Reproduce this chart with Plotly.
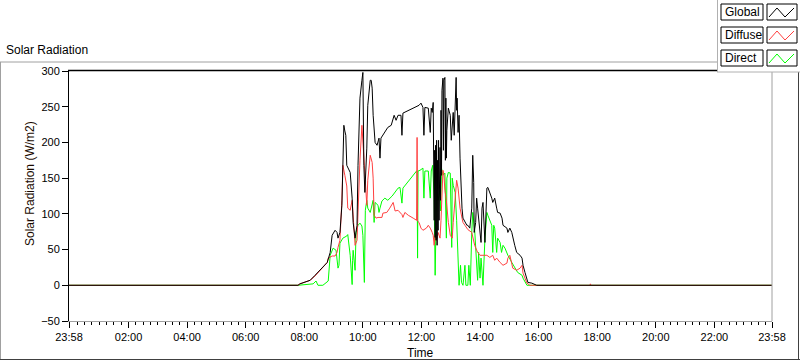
import pandas as pd
import plotly.graph_objects as go

# ---------------- data (minutes after midnight, W/m2) ----------------
global_min = [-2, 466, 467, 471, 481, 492, 502, 512, 518, 527, 533, 537, 543, 547, 549, 553, 557, 559, 561,
              563, 565, 567, 574, 578, 580, 584, 588, 590, 594, 598, 600, 602, 604, 608, 610, 615, 617, 619,
              621, 625, 629, 633, 635, 637, 645, 651, 658, 664, 668, 672, 678, 680, 682, 693, 707, 715, 719,
              723, 725, 727, 734, 738, 740, 742, 744, 746, 747, 748, 749, 750, 751, 752, 753, 754, 755, 756,
              758, 759, 760, 761, 762, 764, 765, 766, 768, 769, 770, 771, 772, 775, 779, 781, 783, 785, 787,
              789, 791, 792, 793, 795, 797, 799, 801, 803, 805, 809, 813, 815, 819, 823, 825, 827, 828, 831,
              833, 835, 838, 842, 844, 846, 850, 854, 856, 860, 864, 866, 870, 874, 876, 881, 885, 887, 895,
              897, 901, 905, 907, 911, 915, 922, 926, 928, 932, 936, 938, 946, 956, 1438]
global_wm2 = [0, 0, 0, 2, 4, 7, 14, 21, 25, 32, 46, 70, 77, 74, 66, 74, 112, 161, 224,
              216, 210, 168, 158, 122, 88, 66, 84, 168, 262, 287, 298, 168, 130, 192, 252, 287, 287, 276,
              238, 200, 196, 206, 178, 206, 214, 221, 224, 238, 231, 238, 238, 210, 241, 245, 249, 252, 255,
              249, 210, 249, 248, 214, 248, 242, 256, 91, 189, 67, 196, 63, 203, 56, 175, 77, 203, 91,
              193, 119, 245, 154, 273, 290, 189, 287, 291, 175, 262, 178, 217, 248, 238, 203, 231, 242, 210,
              262, 291, 245, 262, 214, 238, 178, 122, 108, 94, 88, 84, 84, 80, 108, 182, 144, 74, 88,
              122, 108, 84, 60, 108, 116, 60, 136, 137, 130, 122, 116, 122, 108, 102, 101, 94, 84, 80,
              74, 80, 74, 66, 56, 46, 42, 38, 28, 18, 10, 4, 3, 0, 0]

diffuse_min = [-2, 466, 467, 471, 481, 492, 502, 512, 518, 527, 529, 537, 543, 547, 549, 553, 557, 559, 563,
               567, 569, 574, 578, 580, 584, 588, 590, 594, 598, 600, 604, 608, 610, 615, 619, 621, 623, 627,
               631, 639, 641, 649, 655, 662, 666, 672, 680, 682, 686, 693, 703, 710, 711, 712, 715, 719, 723,
               730, 734, 738, 742, 744, 746, 748, 750, 752, 754, 758, 760, 762, 764, 766, 768, 771, 775, 779,
               783, 785, 789, 792, 795, 799, 803, 805, 809, 815, 823, 825, 829, 835, 840, 846, 854, 860, 866,
               870, 874, 881, 887, 895, 897, 901, 905, 907, 915, 922, 926, 928, 932, 936, 942, 1065, 1066,
               1067, 1438]
diffuse_wm2 = [0, 0, 0, 2, 4, 7, 13, 21, 25, 32, 38, 41, 41, 46, 53, 63, 119, 168, 154,
               139, 108, 105, 119, 91, 56, 63, 112, 175, 224, 200, 164, 112, 147, 182, 172, 150, 98, 94,
               95, 95, 101, 102, 108, 116, 104, 105, 99, 95, 102, 98, 94, 91, 207, 90, 88, 80, 77,
               80, 84, 80, 74, 70, 56, 70, 63, 66, 74, 66, 91, 119, 161, 154, 133, 119, 88, 70,
               66, 88, 126, 147, 136, 108, 94, 88, 84, 78, 74, 66, 56, 46, 42, 42, 42, 39, 42,
               35, 38, 32, 28, 31, 38, 42, 32, 24, 21, 24, 28, 17, 10, 3, 0, 0, 2,
               0, 0]

direct_min = [-2, 467, 498, 504, 508, 518, 529, 533, 539, 545, 549, 551, 553, 559, 567, 569, 574, 576, 578,
              579, 580, 584, 586, 590, 594, 598, 600, 603, 605, 608, 610, 615, 619, 621, 623, 625, 631, 633,
              635, 639, 645, 651, 660, 666, 672, 676, 680, 682, 690, 697, 703, 710, 711, 712, 713, 717, 723,
              725, 727, 734, 738, 740, 743, 746, 748, 750, 751, 754, 758, 759, 761, 764, 768, 771, 772, 775,
              779, 782, 783, 785, 789, 792, 795, 797, 800, 802, 805, 809, 811, 815, 817, 820, 823, 825, 829,
              832, 835, 837, 840, 842, 846, 850, 854, 856, 860, 864, 866, 868, 870, 874, 876, 881, 884, 887,
              891, 897, 905, 911, 917, 926, 928, 936, 1438]
direct_wm2 = [0, 0, 2, 6, 0, 0, 6, 42, 52, 49, 24, 28, 59, 66, 69, 71, 42, 10, 1,
              35, 49, 21, 74, 84, 87, 83, 70, 4, 105, 119, 108, 102, 116, 119, 88, 116, 112, 102,
              108, 118, 122, 119, 125, 130, 136, 137, 115, 136, 143, 150, 154, 160, 160, 38, 160, 161, 164,
              122, 160, 160, 122, 160, 168, 122, 14, 74, 133, 119, 133, 104, 164, 154, 157, 66, 150, 158,
              157, 53, 150, 140, 130, 91, 18, 0, 28, 4, 0, 28, 0, 0, 28, 0, 74, 102, 77,
              38, 7, 46, 10, 38, 0, 66, 102, 98, 91, 84, 46, 84, 80, 46, 66, 60, 46, 56,
              52, 42, 32, 24, 18, 14, 10, 0, 0]

series_names = ["Global", "Diffuse", "Direct"]
series_colors = ["#000000", "#ff4040", "#00ff00"]
tick_labels = ["23:58", "02:00", "04:00", "06:00", "08:00", "10:00", "12:00",
               "14:00", "16:00", "18:00", "20:00", "22:00", "23:58"]
tick_minutes = [-2, 120, 240, 360, 480, 600, 720, 840, 960, 1080, 1200, 1320, 1438]

base = pd.Timestamp("2013-06-15")


def to_time(mins):
    return base + pd.to_timedelta(mins, unit="m")


FONT = "Liberation Sans, Arial, sans-serif"

fig = go.Figure()
for name, color, mins, vals in [
    ("Direct", series_colors[2], direct_min, direct_wm2),
    ("Diffuse", series_colors[1], diffuse_min, diffuse_wm2),
    ("Global", series_colors[0], global_min, global_wm2),
]:
    fig.add_trace(go.Scatter(x=to_time(mins), y=vals, mode="lines", name=name,
                             line=dict(color=color, width=1), showlegend=False))

# ---------------- geometry helpers (pixels -> paper) ----------------
L, R, T, B = 69, 28, 71, 40
W, H = 800, 361
PW, PH = W - L - R, H - T - B


def px(x):
    return (x - L) / PW


def py(y):
    return (H - B - y) / PH


shapes = []


def line(x0, y0, x1, y1, color, width=1):
    shapes.append(dict(type="line", xref="paper", yref="paper", x0=px(x0), y0=py(y0), x1=px(x1), y1=py(y1),
                       line=dict(color=color, width=width), layer="above"))


def rect(x0, y0, x1, y1, fill, color=None, width=1):
    shapes.append(dict(type="rect", xref="paper", yref="paper", x0=px(x0), y0=py(y0), x1=px(x1), y1=py(y1),
                       fillcolor=fill, line=dict(color=color or fill, width=width if color else 0),
                       layer="above"))


# outer frame
line(0, 62, 717, 62, "#a0a0a0")
line(0.5, 62, 0.5, 360, "#a0a0a0")
line(0, 359.5, 800, 359.5, "#404040")
line(798.5, 72, 798.5, 360, "#404040")
# plot frame (top black, right gray)
line(68, 70.5, 772, 70.5, "#000000", 1.5)
line(772, 70, 772, 321, "#a0a0a0")

# legend panel
rect(717, 0, 800, 72, "#ffffff")
line(717.5, 0, 717.5, 72, "#b0b0b0")
line(717, 72, 800, 72, "#b0b0b0")
annotations = []
for i, (name, color) in enumerate(zip(series_names, series_colors)):
    y0 = 4 + 23 * i
    rect(721, y0, 763, y0 + 16, "#ffffff", "#000000")
    rect(767, y0, 797, y0 + 16, "#ffffff", "#000000")
    pts = [(769, y0 + 13), (777, y0 + 4), (785, y0 + 13), (794, y0 + 4)]
    path = "M " + " L ".join(f"{px(a)},{py(b)}" for a, b in pts)
    shapes.append(dict(type="path", xref="paper", yref="paper", path=path,
                       line=dict(color=color, width=1), layer="above"))
    annotations.append(dict(xref="paper", yref="paper", x=px(723), y=py(y0 + 8), text=name,
                            showarrow=False, xanchor="left", yanchor="middle",
                            font=dict(family=FONT, size=12, color="#000000")))

annotations += [
    dict(xref="paper", yref="paper", x=px(4), y=py(50), text="Solar Radiation", showarrow=False,
         xanchor="left", yanchor="middle", font=dict(family=FONT, size=12, color="#000000")),
    dict(xref="paper", yref="paper", x=px(420), y=py(353), text="Time", showarrow=False,
         xanchor="center", yanchor="middle", font=dict(family=FONT, size=12, color="#000000")),
    dict(xref="paper", yref="paper", x=px(30), y=py(184), text="Solar Radiation (W/m2)", showarrow=False,
         textangle=-90, xanchor="center", yanchor="middle",
         font=dict(family=FONT, size=12, color="#1a0a00")),
]

fig.update_layout(
    width=W, height=H,
    margin=dict(l=L, r=R, t=T, b=B, pad=0),
    paper_bgcolor="#ffffff", plot_bgcolor="#ffffff",
    font=dict(family=FONT, size=11, color="#000000"),
    shapes=shapes, annotations=annotations,
    showlegend=False,
    xaxis=dict(
        type="date",
        range=[to_time(-2), to_time(1438)],
        tickmode="array", tickvals=to_time(tick_minutes), ticktext=tick_labels,
        ticks="outside", ticklen=6, tickwidth=1, tickcolor="#000000",
        showline=True, linecolor="#a0a0a0", linewidth=1,
        showgrid=False, zeroline=False,
        tickfont=dict(family=FONT, size=11, color="#000000"),
        minor=dict(dtick=15 * 60 * 1000, tick0=to_time(0), ticks="outside", ticklen=3,
                   tickcolor="#000000", showgrid=False),
    ),
    yaxis=dict(
        range=[-50, 300], tickmode="linear", tick0=-50, dtick=50,
        ticks="outside", ticklen=6, tickwidth=1, tickcolor="#000000",
        showline=True, linecolor="#000000", linewidth=1,
        showgrid=False, zeroline=False,
        tickfont=dict(family=FONT, size=11, color="#000000"),
    ),
)

fig.write_html("out.html", config={"displayModeBar": False},
               post_script="document.body.style.margin='0';document.body.style.overflow='hidden';")
